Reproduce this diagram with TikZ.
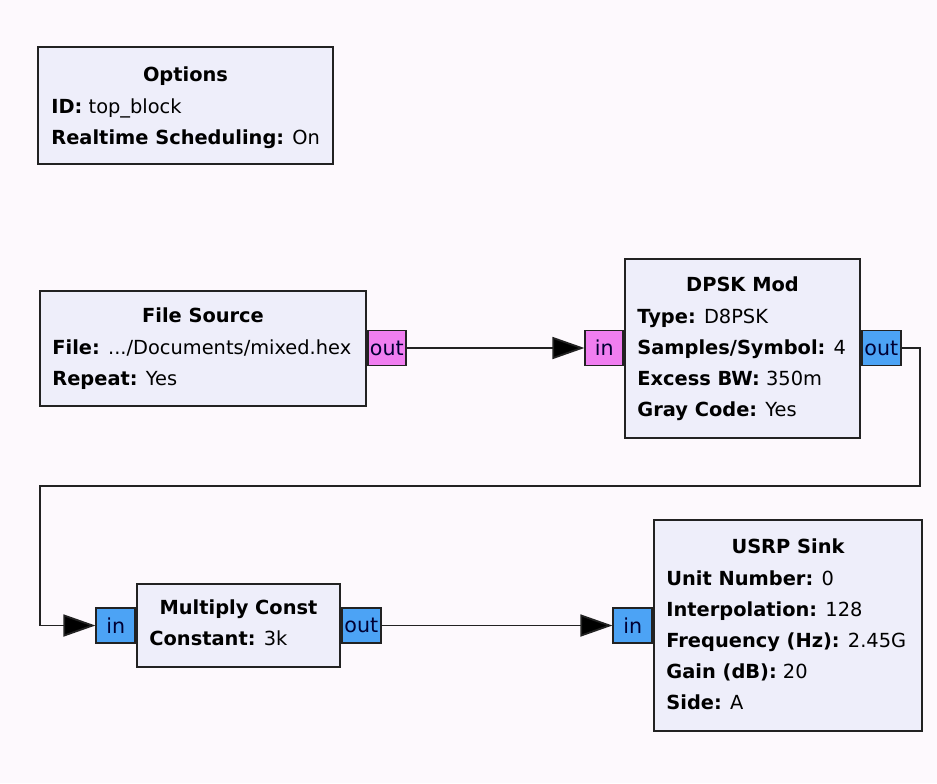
\documentclass[tikz,border=0pt]{standalone}
\usepackage{fontspec}
\setmainfont{DejaVu Sans}
\usepackage{xcolor}
\usepackage{tikz}
\usetikzlibrary{arrows.meta,positioning}

\definecolor{pagebg}{HTML}{FDF9FD}
\definecolor{blockbg}{HTML}{EEEEFA}
\definecolor{byteport}{HTML}{F07EF0}
\definecolor{cplxport}{HTML}{4CA3F5}
\definecolor{edge}{HTML}{222222}

\newcommand{\firstline}{\rule{0pt}{8pt}}

\tikzset{
  block/.style={draw=edge, line width=1pt, fill=blockbg, rectangle, inner sep=0pt},
  btitle/.style={font=\fontsize{9.7}{15.5}\selectfont\bfseries, inner sep=0pt, anchor=base},
  bparams/.style={font=\fontsize{9.7}{15.5}\selectfont, align=left, inner sep=0pt, anchor=north west},
  port/.style={draw=edge, line width=0.8pt, rectangle, inner sep=0pt,
    minimum height=17.5pt, font=\fontsize{10.3}{11}\selectfont, text=black!80!blue},
  bytep/.style={port, fill=byteport, minimum width=19pt},
  cplxp/.style={port, fill=cplxport, minimum width=19.5pt},
  link/.style={draw=edge, line width=0.9pt, -{Triangle[length=16pt,width=11pt,fill=black]}},
}

\begin{document}
\begin{tikzpicture}[x=0.5pt, y=-0.5pt]
    % page
    \fill[pagebg] (0,0) rectangle (937,783);
    \useasboundingbox (0,0) rectangle (937,783);

    % Options block
    \node[block, minimum width=147.5pt, minimum height=58.5pt] (opts) at (185.5,105.5) {};
    \node[btitle] (opts-t) at ([yshift=-17.5pt]opts.north) {Options};
    \node[bparams] (opts-p) at ([xshift=7pt,yshift=-7.8pt]opts.west |- opts-t.base)
      {\firstline\textbf{ID:} top\_block\\\textbf{Realtime Scheduling:} On};

    % File Source block
    \node[block, minimum width=163pt, minimum height=57.5pt] (fsrc) at (203,348) {};
    \node[btitle] (fsrc-t) at ([yshift=-16.5pt]fsrc.north) {File Source};
    \node[bparams] (fsrc-p) at ([xshift=6.5pt,yshift=-7.8pt]fsrc.west |- fsrc-t.base)
      {\firstline\textbf{File:} .../Documents/mixed.hex\\\textbf{Repeat:} Yes};
    \node[bytep, right=0pt of fsrc] (fsrc-out) {out};

    % DPSK Mod block
    \node[block, minimum width=117.5pt, minimum height=89.5pt] (dpsk) at (742.5,348) {};
    \node[btitle] (dpsk-t) at ([yshift=-17pt]dpsk.north) {DPSK Mod};
    \node[bparams] (dpsk-p) at ([xshift=6.5pt,yshift=-8pt]dpsk.west |- dpsk-t.base)
      {\firstline\textbf{Type:} D8PSK\\\textbf{Samples/Symbol:} 4\\\textbf{Excess BW:} 350m\\\textbf{Gray Code:} Yes};
    \node[bytep, left=0pt of dpsk] (dpsk-in) {in};
    \node[cplxp, right=0pt of dpsk] (dpsk-out) {out};

    % Multiply Const block
    \node[block, minimum width=101.5pt, minimum height=41.5pt] (mult) at (238.5,625.5) {};
    \node[btitle] (mult-t) at ([yshift=-15.5pt]mult.north) {Multiply Const};
    \node[bparams] (mult-p) at ([xshift=6.5pt,yshift=-7.5pt]mult.west |- mult-t.base)
      {\firstline\textbf{Constant:} 3k};
    \node[cplxp, left=0pt of mult] (mult-in) {in};
    \node[cplxp, right=0pt of mult] (mult-out) {out};

    % USRP Sink block
    \node[block, minimum width=134pt, minimum height=105.5pt] (usrp) at (788,625.5) {};
    \node[btitle] (usrp-t) at ([yshift=-17pt]usrp.north) {USRP Sink};
    \node[bparams] (usrp-p) at ([xshift=6.5pt,yshift=-8pt]usrp.west |- usrp-t.base)
      {\firstline\textbf{Unit Number:} 0\\\textbf{Interpolation:} 128\\\textbf{Frequency (Hz):} 2.45G\\\textbf{Gain (dB):} 20\\\textbf{Side:} A};
    \node[cplxp, left=0pt of usrp] (usrp-in) {in};

    % connections
    \coordinate (loop-r) at (920,486);
    \coordinate (loop-l) at (40,486);
    \draw[link] (fsrc-out) -- (dpsk-in);
    \draw[link] (dpsk-out.east) -| (loop-r) -- (loop-l) |- (mult-in.west);
    \draw[link] (mult-out) -- (usrp-in);
\end{tikzpicture}
\end{document}
